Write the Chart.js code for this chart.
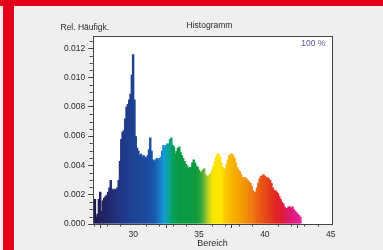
<!DOCTYPE html>
<html><head><meta charset="utf-8">
<script src="https://cdn.jsdelivr.net/npm/chart.js@4/dist/chart.umd.min.js"></script>
<style>
html,body{margin:0;padding:0;}
body{width:383px;height:250px;background:#efefef;position:relative;overflow:hidden;}
#frameTop{position:absolute;left:0;top:0;width:383px;height:6px;background:#e2001a;}
#frameLeft{position:absolute;left:3px;top:0;width:11px;height:250px;background:#e2001a;}
#c{position:absolute;left:14px;top:6px;}
</style></head><body>
<div id="frameTop"></div><div id="frameLeft"></div>
<canvas id="c" width="369" height="244"></canvas>
<script>
// Histogram bins (centres, "Bereich")
const bins = [27.1,27.2,27.3,27.4,27.5,27.6,27.7,27.8,27.9,28.0,
28.1,28.2,28.3,28.4,28.5,28.6,28.7,28.8,28.9,29.0,
29.1,29.2,29.3,29.4,29.5,29.6,29.7,29.8,29.9,30.0,
30.1,30.2,30.3,30.4,30.5,30.6,30.7,30.8,30.9,31.0,
31.1,31.2,31.3,31.4,31.5,31.6,31.7,31.8,31.9,32.0,
32.1,32.2,32.3,32.4,32.5,32.6,32.7,32.8,32.9,33.0,
33.1,33.2,33.3,33.4,33.5,33.6,33.7,33.8,33.9,34.0,
34.1,34.2,34.3,34.4,34.5,34.6,34.7,34.8,34.9,35.0,
35.1,35.2,35.3,35.4,35.5,35.6,35.7,35.8,35.9,36.0,
36.1,36.2,36.3,36.4,36.5,36.6,36.7,36.8,36.9,37.0,
37.1,37.2,37.3,37.4,37.5,37.6,37.7,37.8,37.9,38.0,
38.1,38.2,38.3,38.4,38.5,38.6,38.7,38.8,38.9,39.0,
39.1,39.2,39.3,39.4,39.5,39.6,39.7,39.8,39.9,40.0,
40.1,40.2,40.3,40.4,40.5,40.6,40.7,40.8,40.9,41.0,
41.1,41.2,41.3,41.4,41.5,41.6,41.7,41.8,41.9,42.0,
42.1,42.2,42.3,42.4,42.5,42.6,42.7];

// Relative frequency ("Rel. Häufigk.")
const relFreq = [0.0017,0.0005,0.0007,0.0017,0.0022,0.0009,0.0016,0.0018,0.0019,0.0020,
0.0022,0.0025,0.0030,0.0024,0.0023,0.0024,0.0023,0.0025,0.0030,0.0043,
0.0058,0.0063,0.0064,0.0072,0.0080,0.0082,0.0085,0.0089,0.0102,0.0116,
0.0085,0.0060,0.0052,0.0050,0.0047,0.0048,0.0046,0.0047,0.0046,0.0045,
0.0047,0.0051,0.0059,0.0050,0.0044,0.0043,0.0044,0.0045,0.0044,0.0045,
0.0046,0.0050,0.0054,0.0053,0.0054,0.0055,0.0055,0.0058,0.0059,0.0054,
0.0053,0.0048,0.0050,0.0052,0.0053,0.0049,0.0047,0.0045,0.0043,0.0041,
0.0040,0.0038,0.0039,0.0039,0.0042,0.0044,0.0042,0.0040,0.0039,0.0037,
0.0035,0.0036,0.0037,0.0038,0.0034,0.0033,0.0033,0.0034,0.0035,0.0037,
0.0040,0.0043,0.0046,0.0048,0.0048,0.0046,0.0042,0.0039,0.0037,0.0038,
0.0041,0.0044,0.0047,0.0048,0.0048,0.0047,0.0045,0.0042,0.0039,0.0037,
0.0036,0.0034,0.0032,0.0032,0.0032,0.0031,0.0030,0.0029,0.0028,0.0026,
0.0023,0.0022,0.0022,0.0025,0.0028,0.0031,0.0033,0.0033,0.0034,0.0033,
0.0032,0.0032,0.0031,0.0030,0.0028,0.0025,0.0023,0.0023,0.0022,0.0021,
0.0019,0.0017,0.0015,0.0014,0.0012,0.0011,0.0011,0.0012,0.0012,0.0011,
0.0012,0.0010,0.0009,0.0008,0.0007,0.0006,0.0005];

const xMajorTicks = [30,35,40,45];
const xMinorTicks = [27,28,29,31,32,33,34,36,37,38,39,41,42,43,44];
const yMajorTicks = [0,0.002,0.004,0.006,0.008,0.010,0.012];
const yMinorTicks = [0.0005,0.001,0.0015,0.0025,0.003,0.0035,0.0045,0.005,0.0055,
  0.0065,0.007,0.0075,0.0085,0.009,0.0095,0.0105,0.011,0.0115,0.0125];

// colour along the x range (value, colour)
const spectrumStops = [
  [27.0,'#1b1a4f'],[28.0,'#23266b'],[28.6,'#232f78'],[29.3,'#1f3a8d'],[30.2,'#1e4496'],
  [31.0,'#1c4a9d'],[31.6,'#1b57a8'],[32.0,'#1677c0'],[32.35,'#159ad7'],[32.7,'#0aa49a'],
  [33.0,'#06a05a'],[33.5,'#0b9a44'],[34.8,'#0e9a40'],[35.1,'#2aa33a'],[35.4,'#6db536'],
  [35.75,'#c4d520'],[36.05,'#fce500'],[36.7,'#ffe400'],[37.0,'#fcc800'],[37.6,'#f7b000'],
  [38.3,'#f29a00'],[39.0,'#ef7c12'],[39.5,'#ea5e12'],[40.2,'#e6431a'],[40.8,'#e2261f'],
  [41.3,'#df1a3a'],[41.8,'#dc1967'],[42.4,'#e0208c'],[42.9,'#e4289c']
];

const FONT = "'Liberation Sans', Arial, sans-serif";
let gradCache = null;
function spectrum(ctx) {
  const chart = ctx.chart;
  const xs = chart.scales && chart.scales.x;
  if (!xs || !chart.chartArea) return spectrumStops[0][1];
  const v0 = spectrumStops[0][0], v1 = spectrumStops[spectrumStops.length-1][0];
  const p0 = xs.getPixelForValue(v0), p1 = xs.getPixelForValue(v1);
  const key = p0 + '_' + p1;
  if (gradCache && gradCache.key === key) return gradCache.g;
  const g = chart.ctx.createLinearGradient(p0, 0, p1, 0);
  spectrumStops.forEach(([v, c]) => g.addColorStop((v - v0) / (v1 - v0), c));
  gradCache = {key, g};
  return g;
}

const decor = {
  id: 'decor',
  beforeDraw(chart) {
    const {ctx, chartArea: a} = chart;
    ctx.save();
    ctx.fillStyle = '#ffffff';
    ctx.fillRect(a.left, a.top, a.right - a.left, a.bottom - a.top);
    ctx.restore();
  },
  afterDraw(chart) {
    const {ctx, chartArea: a, scales} = chart;
    ctx.save();
    // frame
    ctx.strokeStyle = '#444444';
    ctx.lineWidth = 1;
    ctx.strokeRect(Math.round(a.left) + 0.5, Math.round(a.top) + 0.5,
      Math.round(a.right - a.left) - 1, Math.round(a.bottom - a.top));
    // minor ticks
    ctx.beginPath();
    xMinorTicks.forEach(v => {
      const px = Math.round(scales.x.getPixelForValue(v)) + 0.5;
      ctx.moveTo(px, a.bottom); ctx.lineTo(px, a.bottom + 2.5);
    });
    yMinorTicks.forEach(v => {
      const py = Math.round(scales.y.getPixelForValue(v)) + 0.5;
      ctx.moveTo(a.left, py); ctx.lineTo(a.left - 3, py);
    });
    ctx.stroke();
    // texts
    ctx.fillStyle = '#2a2a2a';
    ctx.font = '8.5px ' + FONT;
    ctx.textBaseline = 'alphabetic';
    ctx.textAlign = 'left';
    ctx.fillText('Rel. Häufigk.', 46.5, 23.5);
    ctx.textAlign = 'center';
    ctx.fillText('Histogramm', (a.left + a.right) / 2 - 3, 22);
    ctx.fillStyle = '#5a50a8';
    ctx.textAlign = 'right';
    ctx.fillText('100 %', a.right - 7, a.top + 10.3);
    ctx.restore();
  }
};

new Chart(document.getElementById('c'), {
  type: 'bar',
  data: {
    datasets: [{
      data: bins.map((b, i) => ({x: b, y: relFreq[i]})),
      backgroundColor: spectrum,
      borderWidth: 0,
      barThickness: 2.4,
      inflateAmount: 0
    }]
  },
  options: {
    responsive: false,
    animation: false,
    devicePixelRatio: 1,
    layout: {padding: {left: 0, right: 50.7, top: 29.7, bottom: 0}},
    plugins: {legend: {display: false}, tooltip: {enabled: false}, title: {display: false}},
    scales: {
      x: {
        type: 'linear', min: 26.93, max: 45.12, offset: false,
        afterBuildTicks: s => { s.ticks = xMajorTicks.map(v => ({value: v})); },
        afterFit: s => { s.height = 26; },
        grid: {display: true, drawOnChartArea: false, drawTicks: true, tickLength: 4, color: '#444444'},
        border: {display: false},
        ticks: {font: {size: 8.5, family: FONT}, color: '#2a2a2a', padding: 2, maxRotation: 0,
          callback: v => String(v)},
        title: {display: true, text: 'Bereich', font: {size: 9, family: FONT}, color: '#2a2a2a',
          padding: {top: 0, bottom: 1}}
      },
      y: {
        type: 'linear', min: 0, max: 0.01286,
        afterBuildTicks: s => { s.ticks = yMajorTicks.map(v => ({value: v})); },
        afterFit: s => { s.width = 78.7; },
        grid: {display: true, drawOnChartArea: false, drawTicks: true, tickLength: 4.5, color: '#444444'},
        border: {display: false},
        ticks: {font: {size: 8.5, family: FONT}, color: '#2a2a2a', padding: 3,
          callback: v => v.toFixed(3)}
      }
    }
  },
  plugins: [decor]
});
</script>
</body></html>
